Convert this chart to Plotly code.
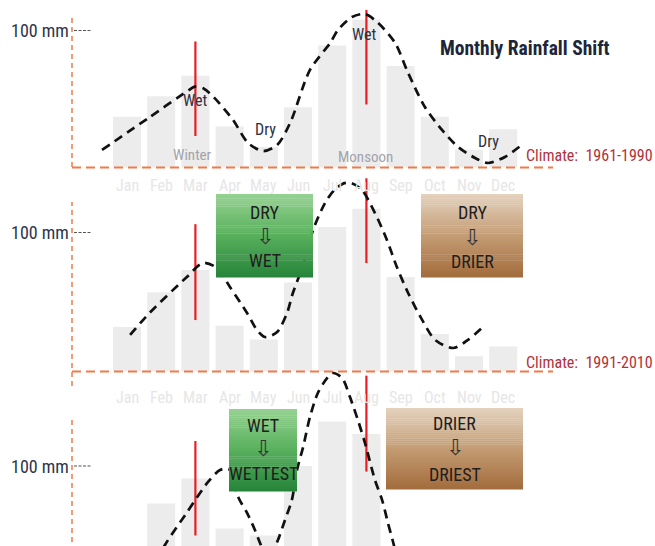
import plotly.graph_objects as go

W, H = 655, 546

# ---------------- data ----------------
months = ["Jan", "Feb", "Mar", "Apr", "May", "Jun", "Jul", "Aug", "Sep", "Oct", "Nov", "Dec"]
month_pos = list(range(1, 13))

rain_1961_1990 = [37, 52, 67, 30, 15, 44, 89, 108, 74, 37, 13, 28]
rain_1991_2010 = [32, 57, 73, 33, 23, 64, 104, 117, 68, 27, 11, 18]
rain_later = [30, 73, 91, 55, 50, 100, 132, 123, 35, 15, 5, 8]

trend_1961_1990_x = [0.27, 1.67, 2.75, 2.99, 3.25, 3.55, 4.10, 4.54, 4.98, 5.39, 5.77, 6.35, 6.94, 7.17,
                     7.58, 7.96, 8.34, 8.84, 9.22, 9.71, 10.21, 10.68, 11.18, 11.56, 12.05, 12.58]
trend_1961_1990_y = [12.8, 36.9, 55.5, 59.0, 57.5, 51.0, 34.7, 17.9, 12.0, 16.4, 32.5, 71.2, 90.9, 100.4,
                     109.9, 112.0, 105.5, 90.9, 69.0, 44.2, 27.4, 15.0, 6.9, 3.3, 7.7, 17.2]

trend_1991_2010_x = [1.09, 1.67, 2.75, 3.22, 3.63, 4.01, 4.51, 4.80, 5.04, 5.39, 5.68, 5.85, 6.12,
                     6.44, 6.79, 7.08, 7.35, 7.55, 7.87, 8.25, 8.60, 8.89, 9.22, 9.63, 10.01, 10.54, 10.97, 11.41]
trend_1991_2010_y = [26.3, 42.4, 68.0, 78.1, 74.5, 60.8, 42.1, 29.9, 24.8, 28.4, 42.1, 56.5, 74.5,
                     101.8, 121.2, 131.0, 135.5, 135.6, 130.6, 114.0, 94.6, 75.2, 56.5, 37.1, 22.7, 16.9, 22.7, 32.0]

trend_later_x = [1.67, 2.11, 2.70, 3.37, 3.72, 3.98, 4.25, 4.51, 4.74, 4.89, 5.12, 5.39, 5.62, 5.82,
                 5.97, 6.15, 6.35, 6.58, 6.85, 7.02, 7.29, 7.52, 7.75, 7.96, 8.25, 8.46, 8.63, 8.78, 8.98]
trend_later_y = [22.0, 43.2, 64.7, 88.5, 97.1, 97.8, 77.7, 66.2, 54.0, 44.6, 32.4, 45.3, 61.2, 75.5,
                 97.1, 113.7, 135.3, 152.5, 163.3, 166.9, 163.3, 149.6, 133.1, 116.5, 89.9, 75.5, 59.0, 45.3, 25.2]

peak_months = [3, 8]
peak_span_1961_1990 = [(23, 92), (46, 115)]
peak_span_1991_2010 = [(37, 106), (78, 139)]
peak_span_later = [(50, 118), (96, 165)]

notes_1961_1990 = [("Wet", 2.99, 49), ("Dry", 5.04, 28), ("Wet", 7.93, 97), ("Dry", 11.56, 19)]
season_notes = [("Winter", 2.91, 9), ("Monsoon", 7.96, 8)]

# ---------------- style / layout constants ----------------
NARROW = "Liberation Sans Narrow, Arial Narrow, Roboto Condensed, DejaVu Sans Condensed, sans-serif"
BAR = "#ececec"
ORANGE = "#f07a4a"
RED = "#e81e24"
PX_PER_MONTH = 34.2
JAN_PX = 127


def px_to_month(px):
    return 1 + (px - JAN_PX) / PX_PER_MONTH


def fx(px):
    return px / W


def fy(py):
    return 1 - py / H


panels = [
    dict(rain=rain_1961_1990, tx=trend_1961_1990_x, ty=trend_1961_1990_y, spans=peak_span_1961_1990,
         base=167.5, s=1.37, top=0, bot=176, axis_top=17, label_y=185, baseline=True,
         climate="Climate:\u00a0 1961-1990", climate_y=155),
    dict(rain=rain_1991_2010, tx=trend_1991_2010_x, ty=trend_1991_2010_y, spans=peak_span_1991_2010,
         base=371.5, s=1.39, top=170, bot=386, axis_top=202, label_y=397, baseline=True,
         climate="Climate:\u00a0 1991-2010", climate_y=362),
    dict(rain=rain_later, tx=trend_later_x, ty=trend_later_y, spans=peak_span_later,
         base=605, s=1.39, top=365, bot=546, axis_top=418, label_y=None, baseline=False,
         climate=None, climate_y=None),
]

fig = go.Figure()
shapes = []
annotations = []
layout_axes = {}

for i, p in enumerate(panels):
    yname = "y" if i == 0 else f"y{i + 1}"
    ykey = "yaxis" if i == 0 else f"yaxis{i + 1}"
    rng = [(p["base"] - p["bot"]) / p["s"], (p["base"] - p["top"]) / p["s"]]
    layout_axes[ykey] = dict(domain=[fy(p["bot"]), fy(p["top"])], range=rng, visible=False,
                             fixedrange=True, anchor="x")

    fig.add_trace(go.Bar(x=month_pos, y=p["rain"], width=0.82, marker=dict(color=BAR, line_width=0),
                         xaxis="x", yaxis=yname, hoverinfo="skip", showlegend=False))
    rx, ry = [], []
    for m, (lo, hi) in zip(peak_months, p["spans"]):
        rx += [m, m, None]
        ry += [lo, hi, None]
    fig.add_trace(go.Scatter(x=rx, y=ry, mode="lines", line=dict(color=RED, width=2.2),
                             xaxis="x", yaxis=yname, hoverinfo="skip", showlegend=False))
    fig.add_trace(go.Scatter(x=p["tx"], y=p["ty"], mode="lines",
                             line=dict(color="#111111", width=2.7, dash="9px,6px", shape="spline", smoothing=0.8),
                             xaxis="x", yaxis=yname, hoverinfo="skip", showlegend=False))

    # orange dashed axes
    ax_x = px_to_month(72)
    shapes.append(dict(type="line", xref="x", yref=yname, x0=ax_x, x1=ax_x, y0=min(0, rng[0]),
                       y1=(p["base"] - p["axis_top"]) / p["s"], line=dict(color=ORANGE, width=1.5, dash="5px,4px"),
                       layer="below"))
    if p["baseline"]:
        shapes.append(dict(type="line", xref="x", yref=yname, x0=ax_x, x1=px_to_month(553), y0=0, y1=0,
                           line=dict(color=ORANGE, width=2.2, dash="9px,5px"), layer="above"))
    # 100 mm tick
    shapes.append(dict(type="line", xref="x", yref=yname, x0=px_to_month(74), x1=px_to_month(92), y0=100, y1=100,
                       line=dict(color="#555555", width=1.2, dash="3px,1.5px"), layer="above"))
    annotations.append(dict(text="100 mm", xref="x", yref=yname, x=px_to_month(71), y=100, xanchor="right",
                            yanchor="middle", showarrow=False, font=dict(family=NARROW, size=18, color="#2b3550")))
    if p["label_y"] is not None:
        for m, name in zip(month_pos, months):
            annotations.append(dict(text=name, xref="x", yref="paper", x=m, y=fy(p["label_y"]), xanchor="center",
                                    yanchor="middle", showarrow=False,
                                    font=dict(family=NARROW, size=16, color="#e6e6e6")))
    if p["climate"]:
        annotations.append(dict(text=p["climate"], xref="paper", yref="paper", x=fx(524), y=fy(p["climate_y"]),
                                xanchor="left", yanchor="middle", showarrow=False,
                                font=dict(family=NARROW, size=16, color="#b3303a")))

for txt, m, v in notes_1961_1990:
    annotations.append(dict(text=txt, xref="x", yref="y", x=m, y=v, showarrow=False, xanchor="center",
                            yanchor="middle", font=dict(family=NARROW, size=16, color="#2e3040")))
for txt, m, v in season_notes:
    annotations.append(dict(text=txt, xref="x", yref="y", x=m, y=v, showarrow=False, xanchor="center",
                            yanchor="middle", font=dict(family=NARROW, size=15, color="#a2a2aa")))

annotations.append(dict(text="<b>Monthly Rainfall Shift</b>", xref="paper", yref="paper", x=fx(525), y=fy(48),
                        xanchor="center", yanchor="middle", showarrow=False,
                        font=dict(family=NARROW, size=19.5, color="#1c2638")))

# gradient change boxes
GREEN = [(0.0, (150, 210, 146)), (0.5, (88, 176, 92)), (1.0, (38, 132, 58))]
BROWN = [(0.0, (228, 210, 190)), (0.5, (196, 156, 116)), (1.0, (163, 108, 60))]


def blend(stops, t):
    for (t0, c0), (t1, c1) in zip(stops[:-1], stops[1:]):
        if t <= t1:
            u = (t - t0) / (t1 - t0)
            return "rgb(%d,%d,%d)" % tuple(round(a + (b - a) * u) for a, b in zip(c0, c1))
    return "rgb(%d,%d,%d)" % stops[-1][1]


boxes = [
    dict(x0=216, x1=313, y0=194, y1=277, stops=GREEN, lines=[("DRY", 213), ("\u21e9", 236), ("WET", 260)]),
    dict(x0=421, x1=523, y0=194, y1=277, stops=BROWN, lines=[("DRY", 213), ("\u21e9", 237), ("DRIER", 261)]),
    dict(x0=229, x1=297, y0=409, y1=491, stops=GREEN, lines=[("WET", 425), ("\u21e9", 448), ("WETTEST", 473)]),
    dict(x0=386, x1=523, y0=408, y1=489, stops=BROWN, lines=[("DRIER", 423), ("\u21e9", 447), ("DRIEST", 474)]),
]
N = 40
for b in boxes:
    for k in range(N):
        ya = b["y0"] + (b["y1"] - b["y0"]) * k / N
        yb = b["y0"] + (b["y1"] - b["y0"]) * (k + 1) / N
        shapes.append(dict(type="rect", xref="paper", yref="paper", x0=fx(b["x0"]), x1=fx(b["x1"]),
                           y0=fy(yb + 0.4), y1=fy(ya), fillcolor=blend(b["stops"], (k + 0.5) / N),
                           line=dict(width=0), layer="above"))
    cx = (b["x0"] + b["x1"]) / 2
    for txt, ypx in b["lines"]:
        arrow = txt == "\u21e9"
        annotations.append(dict(text=txt, xref="paper", yref="paper", x=fx(cx), y=fy(ypx), xanchor="center",
                                yanchor="middle", showarrow=False,
                                font=dict(family="DejaVu Sans" if arrow else NARROW, size=22 if arrow else 18,
                                          color="#333333" if arrow else "#1e1e1e")))

fig.update_layout(
    width=W, height=H, autosize=False,
    margin=dict(l=0, r=0, t=0, b=0, pad=0),
    paper_bgcolor="white", plot_bgcolor="white",
    barmode="overlay", showlegend=False,
    xaxis=dict(domain=[0, 1], range=[px_to_month(0), px_to_month(W)], visible=False, fixedrange=True),
    shapes=shapes, annotations=annotations,
    **layout_axes,
)

fig.write_html("out.html", config={"displayModeBar": False},
               post_script="document.body.style.margin='0px';document.body.style.overflow='hidden';")
